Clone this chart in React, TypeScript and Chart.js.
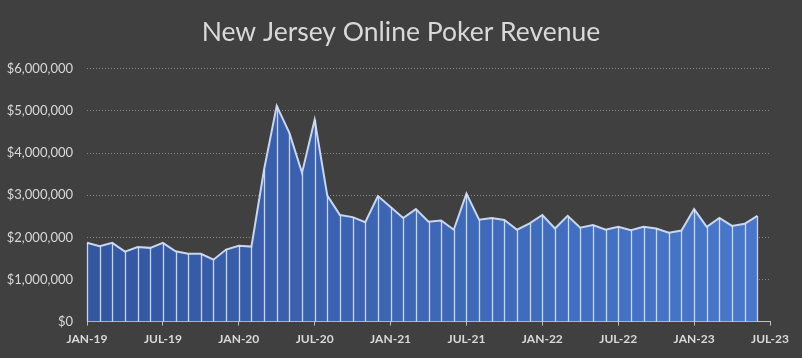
import React, { useEffect, useRef } from "react";
import { Chart, registerables } from "chart.js";

Chart.register(...registerables);

const months = ["JAN", "FEB", "MAR", "APR", "MAY", "JUN", "JUL", "AUG", "SEP", "OCT", "NOV", "DEC"];
const years = ["19", "20", "21", "22", "23"];

// Jan-19 .. Jul-23 (Jul-23 has no data)
const categories: string[] = [];
for (const y of years) for (const m of months) categories.push(`${m}-${y}`);
categories.splice(55);

const revenue: (number | null)[] = [
  1870000, 1790000, 1870000, 1660000, 1770000, 1750000, 1870000, 1670000, 1610000, 1610000, 1470000, 1710000,
  1800000, 1780000, 3610000, 5120000, 4480000, 3530000, 4790000, 2990000, 2530000, 2480000, 2360000, 2980000,
  2720000, 2460000, 2670000, 2370000, 2400000, 2180000, 3040000, 2420000, 2460000, 2410000, 2180000, 2330000,
  2530000, 2210000, 2510000, 2230000, 2290000, 2180000, 2250000, 2170000, 2250000, 2210000, 2110000, 2160000,
  2670000, 2250000, 2460000, 2270000, 2320000, 2510000, null,
];

const yTicks = [0, 1000000, 2000000, 3000000, 4000000, 5000000, 6000000];

const dropLines = {
  id: "dropLines",
  afterDatasetsDraw(chart: any) {
    const meta = chart.getDatasetMeta(0);
    const yScale = chart.scales.y;
    const base = yScale.getPixelForValue(0);
    const ctx = chart.ctx;
    ctx.save();
    ctx.strokeStyle = "rgba(215,226,248,0.9)";
    ctx.lineWidth = 1.3;
    meta.data.forEach((pt: any, i: number) => {
      const v = chart.data.datasets[0].data[i];
      if (v == null) return;
      ctx.beginPath();
      ctx.moveTo(Math.round(pt.x) + 0.5, pt.y);
      ctx.lineTo(Math.round(pt.x) + 0.5, base);
      ctx.stroke();
    });
    ctx.restore();
  },
};

const bgPlugin = {
  id: "bg",
  beforeDraw(chart: any) {
    const ctx = chart.ctx;
    ctx.save();
    ctx.fillStyle = "#404040";
    ctx.fillRect(0, 0, chart.width, chart.height);
    ctx.restore();
  },
};

export default function App() {
  const ref = useRef<HTMLCanvasElement>(null);
  useEffect(() => {
    if (!ref.current) return;
    const chart = new Chart(ref.current, {
      type: "line",
      data: {
        labels: categories,
        datasets: [
          {
            data: revenue,
            borderColor: "#c9d6ef",
            borderWidth: 2,
            pointRadius: 0,
            tension: 0,
            fill: "origin",
            backgroundColor: (c: any) => {
              const area = c.chart.chartArea;
              if (!area) return "#4472c4";
              const g = c.chart.ctx.createLinearGradient(area.left, 0, area.right, 0);
              g.addColorStop(0, "#3356a0");
              g.addColorStop(1, "#4878cc");
              return g;
            },
          },
        ],
      },
      options: {
        animation: false,
        responsive: false,
        maintainAspectRatio: false,
        layout: { padding: { left: 0, right: 0, top: 0, bottom: 6 } },
        plugins: {
          legend: { display: false },
          tooltip: { enabled: false },
          title: {
            display: true,
            text: "New Jersey Online Poker Revenue",
            color: "#d9d9d9",
            font: { family: "Lato", size: 26.5, weight: "normal" },
            padding: { top: 17, bottom: 20 },
          },
        },
        scales: {
          x: {
            offset: false,
            grid: {
              drawOnChartArea: false,
              drawTicks: true,
              tickLength: 4,
              color: (c: any) => (c.index % 6 === 0 ? "#bfbfbf" : "rgba(0,0,0,0)"),
            },
            border: { display: true, color: "#bfbfbf", width: 1 },
            ticks: {
              autoSkip: false,
              maxRotation: 0,
              color: "#d9d9d9",
              font: { family: "Lato", size: 12, weight: "bold" },
              padding: 6,
              callback: (_v: any, i: number) => (i % 6 === 0 ? categories[i] : ""),
            },
          },
          y: {
            min: 0,
            max: 6000000,
            afterBuildTicks: (s: any) => {
              s.ticks = yTicks.map((v) => ({ value: v }));
            },
            afterFit: (s: any) => {
              s.width = 87;
            },
            grid: {
              color: (c: any) => (c.tick && c.tick.value === 0 ? "rgba(0,0,0,0)" : "#8a8a8a"),
              lineWidth: 1,
              drawTicks: false,
            },
            border: { display: false, dash: [1, 2] },
            ticks: {
              color: "#d9d9d9",
              font: { family: "Lato", size: 13 },
              padding: 14,
              callback: (v: any) => "$" + Number(v).toLocaleString("en-US"),
            },
          },
          yRight: {
            position: "right",
            min: 0,
            max: 6000000,
            display: true,
            grid: { display: false, drawTicks: false },
            border: { display: false },
            ticks: { display: false },
            afterFit: (s: any) => {
              s.width = 32;
            },
          },
        },
      },
      plugins: [bgPlugin, dropLines],
    });
    return () => chart.destroy();
  }, []);
  return (
    <div style={{ position: "absolute", left: 0, top: 0, width: 802, height: 358, background: "#404040" }}>
      <canvas ref={ref} width={802} height={358} style={{ width: 802, height: 358 }} />
    </div>
  );
}
